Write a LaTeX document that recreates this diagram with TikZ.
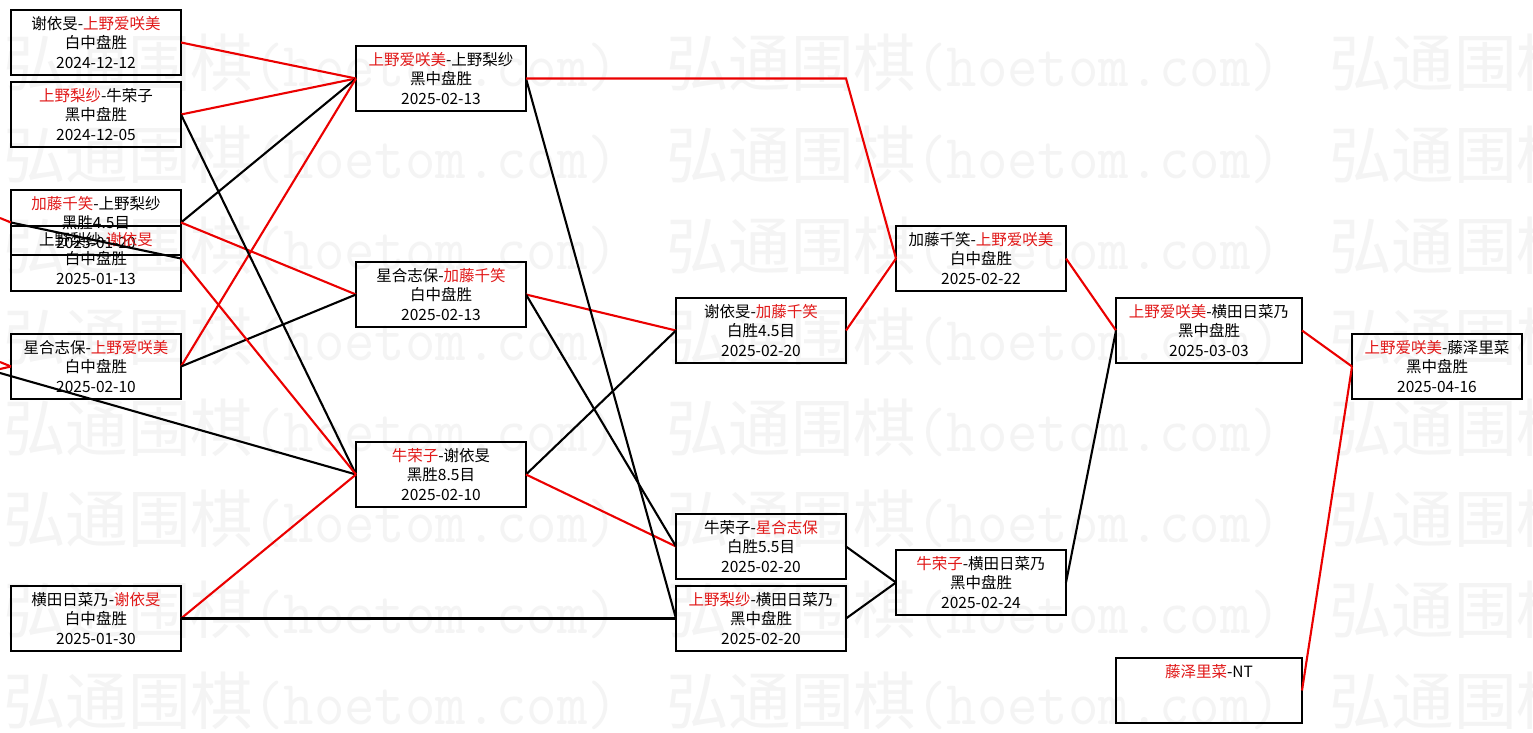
\documentclass[tikz,border=0pt]{standalone}
\usepackage{graphicx}
\usepackage{fontspec}
\setmainfont{Noto Sans CJK SC}
\definecolor{wmgray}{gray}{0.955}
\definecolor{rtxt}{RGB}{225,25,25}
\definecolor{rline}{RGB}{235,0,0}
\newcommand\R[1]{\textcolor{rtxt}{#1}}
\tikzset{
  gbox/.style={draw=black, line width=2.3pt, inner sep=0pt, outer sep=0pt, minimum height=65pt},
  gtxt/.style={anchor=north, align=center, inner sep=0pt, font=\fontsize{15.5}{19.25}\selectfont},
  wl/.style={draw=black, line width=2.1pt},
  rl/.style={draw=rline, line width=2.1pt},
  wm/.style={anchor=base west, inner sep=0pt, text=wmgray, font=\fontsize{62.5}{62.5}\selectfont},
}
\newcommand\gm[5]{%
  \node[gbox, minimum width=#4pt, anchor=north] (#1) at (#2,#3) {};
  \node[gtxt] (#1t) at ([yshift=-4.5pt]#1.north) {\rule{0pt}{15pt}#5};}
\begin{document}
\begin{tikzpicture}[x=1pt,y=-1pt]
\path[use as bounding box] (0,0) rectangle (1533,733);
\clip (0,0) rectangle (1533,733);
\fill[white] (0,0) rectangle (1533,733);
% watermark
\foreach \r in {0,...,7}{\foreach \k in {0,1,2}{
  \node[wm] (wm-\r-\k) at ({3+663*\k},{87+91*\r}) {弘通围棋\scalebox{0.945}[1]{\ttfamily(hoetom.com)}};}}
% games
\gm{a1}{96}{10}{170}{谢依旻-\R{上野爱咲美}\\白中盘胜\\2024-12-12}
\gm{a2}{96}{82}{170}{\R{上野梨纱}-牛荣子\\黑中盘胜\\2024-12-05}
\gm{a3}{96}{190}{170}{\R{加藤千笑}-上野梨纱\\黑胜4.5目\\2025-01-20}
\gm{a4}{96}{226}{170}{上野梨纱-\R{谢依旻}\\白中盘胜\\2025-01-13}
\gm{a5}{96}{334}{170}{星合志保-\R{上野爱咲美}\\白中盘胜\\2025-02-10}
\gm{a6}{96}{586}{170}{横田日菜乃-\R{谢依旻}\\白中盘胜\\2025-01-30}
\gm{b1}{441}{46}{170}{\R{上野爱咲美}-上野梨纱\\黑中盘胜\\2025-02-13}
\gm{b2}{441}{262}{170}{星合志保-\R{加藤千笑}\\白中盘胜\\2025-02-13}
\gm{b3}{441}{442}{170}{\R{牛荣子}-谢依旻\\黑胜8.5目\\2025-02-10}
\gm{c1}{761}{298}{170}{谢依旻-\R{加藤千笑}\\白胜4.5目\\2025-02-20}
\gm{c2}{761}{514}{170}{牛荣子-\R{星合志保}\\白胜5.5目\\2025-02-20}
\gm{c3}{761}{586}{170}{\R{上野梨纱}-横田日菜乃\\黑中盘胜\\2025-02-20}
\gm{d1}{981}{226}{170}{加藤千笑-\R{上野爱咲美}\\白中盘胜\\2025-02-22}
\gm{d2}{981}{550}{170}{\R{牛荣子}-横田日菜乃\\黑中盘胜\\2025-02-24}
\gm{e1}{1209}{298}{186}{\R{上野爱咲美}-横田日菜乃\\黑中盘胜\\2025-03-03}
\gm{e2}{1209}{658}{186}{\R{藤泽里菜}-NT}
\gm{f1}{1437}{334}{170}{\R{上野爱咲美}-藤泽里菜\\黑中盘胜\\2025-04-16}
% free ends off the left edge
\coordinate (oa3) at (0,218);
\coordinate (oa5u) at (0,362);
\coordinate (oa5d) at (0,369);
\coordinate (ob3) at (0,373);
% connectors
\draw[rl] (oa3) -- (a3.west);
\draw[rl] (oa5u) -- (a5.west);
\draw[rl] (oa5d) -- (a5.west);
\draw[wl] (ob3) -- (b3.west);
\draw[wl] (a4.east) -- (a3.west);
\draw[rl] (a1.east) -- (b1.west);
\draw[rl] (a2.east) -- (b1.west);
\draw[wl] (a3.east) -- (b1.west);
\draw[rl] (a5.east) -- (b1.west);
\draw[rl] (a3.east) -- (b2.west);
\draw[wl] (a5.east) -- (b2.west);
\draw[wl] (a2.east) -- (b3.west);
\draw[rl] (a4.east) -- (b3.west);
\draw[rl] (a6.east) -- (b3.west);
\draw[wl] (a6.east) -- (c3.west);
\draw[rl] (b2.east) -- (c1.west);
\draw[wl] (b3.east) -- (c1.west);
\draw[rl] (b3.east) -- (c2.west);
\draw[wl] (b2.east) -- (c2.west);
\draw[wl] (b1.east) -- (c3.west);
\draw[rl] (b1.east) -- (b1.east -| c1.east) -- (d1.west);
\draw[rl] (c1.east) -- (d1.west);
\draw[wl] (c2.east) -- (d2.west);
\draw[wl] (c3.east) -- (d2.west);
\draw[rl] (d1.east) -- (e1.west);
\draw[wl] (d2.east) -- (e1.west);
\draw[rl] (e1.east) -- (f1.west);
\draw[rl] (e2.east) -- (f1.west);
\end{tikzpicture}
\end{document}
